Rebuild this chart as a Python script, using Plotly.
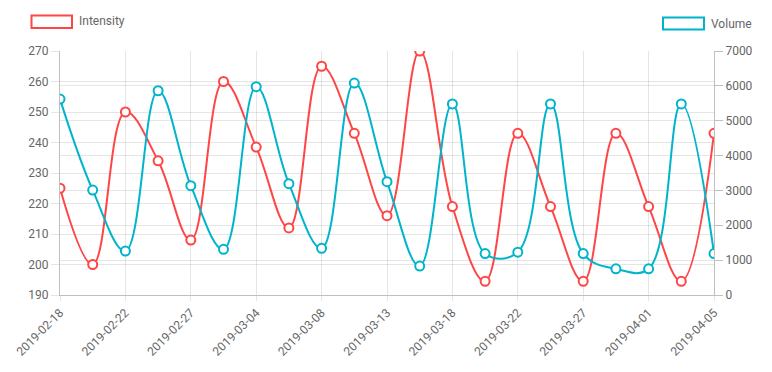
import plotly.graph_objects as go

dates = ["2019-02-18", "2019-02-20", "2019-02-22", "2019-02-25", "2019-02-27",
         "2019-03-01", "2019-03-04", "2019-03-06", "2019-03-08", "2019-03-11",
         "2019-03-13", "2019-03-15", "2019-03-18", "2019-03-20", "2019-03-22",
         "2019-03-25", "2019-03-27", "2019-03-29", "2019-04-01", "2019-04-03",
         "2019-04-05"]
intensity = [225, 200, 250, 234, 208, 260, 238.5, 212, 265, 243, 216, 270,
             219, 194.5, 243, 219, 194.5, 243, 219, 194.5, 243]
volume = [5620, 3010, 1260, 5860, 3135, 1310, 5975, 3195, 1340, 6080, 3250,
          830, 5480, 1190, 1230, 5480, 1190, 750, 750, 5480, 1190]
tick_labels = dates[::2]

RED = "#ff4545"
CYAN = "#00b4cc"
GRID = "rgba(0,0,0,0.1)"
FONT = "Roboto"
TXT = "#666666"

W, H = 772, 372
L, R, T, B = 60, 58, 51, 77
pw, ph = W - L - R, H - T - B


def px(x):
    return (x - L) / pw


def py(y):
    return (H - B - y) / ph


fig = go.Figure()
fig.add_trace(go.Scatter(
    x=dates, y=intensity, name="Intensity", mode="lines+markers",
    line=dict(color=RED, width=2, shape="spline", smoothing=1.1),
    marker=dict(size=9, color="white", line=dict(color=RED, width=2)),
    yaxis="y"))
fig.add_trace(go.Scatter(
    x=dates, y=volume, name="Volume", mode="lines+markers",
    line=dict(color=CYAN, width=2, shape="spline", smoothing=1.1),
    marker=dict(size=9, color="white", line=dict(color=CYAN, width=2)),
    yaxis="y2"))

shapes = [
    dict(type="rect", xref="paper", yref="paper", x0=px(31.5), x1=px(72),
         y0=py(28), y1=py(15.5), line=dict(color=RED, width=2),
         fillcolor="white", layer="above"),
    dict(type="rect", xref="paper", yref="paper", x0=px(663), x1=px(704),
         y0=py(29.5), y1=py(17.5), line=dict(color=CYAN, width=2),
         fillcolor="white", layer="above"),
]
annotations = [
    dict(text="Intensity", xref="paper", yref="paper", x=px(77), y=py(21.5),
         xanchor="left", yanchor="middle", showarrow=False,
         font=dict(family=FONT, size=12, color=TXT)),
    dict(text="Volume", xref="paper", yref="paper", x=px(709), y=py(23.5),
         xanchor="left", yanchor="middle", showarrow=False,
         font=dict(family=FONT, size=12, color=TXT)),
]

fig.update_layout(
    width=W, height=H,
    margin=dict(l=L, r=R, t=T, b=B, autoexpand=False),
    paper_bgcolor="white", plot_bgcolor="white",
    showlegend=False,
    font=dict(family=FONT, size=12, color=TXT),
    shapes=shapes, annotations=annotations,
    xaxis=dict(type="category", range=[0, len(dates) - 1],
               tickmode="array", tickvals=tick_labels, ticktext=tick_labels,
               tickangle=-45, showgrid=True, gridcolor=GRID, gridwidth=1,
               showline=True, linecolor="rgba(0,0,0,0.25)", linewidth=1,
               ticks="outside", ticklen=5, tickcolor=GRID,
               zeroline=False, automargin=False),
    yaxis=dict(range=[190, 270], dtick=10, tick0=190, showgrid=True,
               gridcolor=GRID, showline=True, linecolor="rgba(0,0,0,0.25)",
               ticks="outside", ticklen=8, tickcolor=GRID,
               zeroline=False, automargin=False),
    yaxis2=dict(range=[0, 7000], dtick=1000, tick0=0, overlaying="y",
                side="right", showgrid=True, gridcolor=GRID, showline=True,
                linecolor="rgba(0,0,0,0.25)", ticks="outside", ticklen=8,
                tickcolor="rgba(0,0,0,0.25)", zeroline=False,
                automargin=False),
)

fig.write_html("out.html",
               config={"displayModeBar": False},
               post_script="document.body.style.margin='0';"
                           "document.body.style.padding='0';")
